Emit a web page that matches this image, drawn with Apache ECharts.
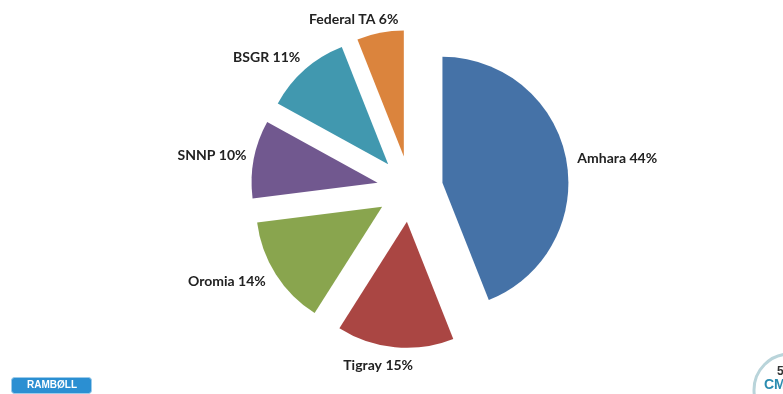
<!DOCTYPE html>
<html>
<head>
<meta charset="utf-8">
<script src="https://cdn.jsdelivr.net/npm/echarts@6/dist/echarts.min.js"></script>
<style>
html,body{margin:0;padding:0;background:#fff;}
#chart{width:783px;height:394px;}
</style>
</head>
<body>
<div id="chart"></div>
<script>
// ---- data ----
var categories = ['Amhara', 'Tigray', 'Oromia', 'SNNP', 'BSGR', 'Federal TA'];
var shares = [44, 15, 14, 10, 11, 6];
var colors = ['#4572A7', '#AA4643', '#89A54E', '#71588F', '#4198AF', '#DB843D'];

// ---- layout / style ----
var CX = 410, CY = 189, R = 126, OFFSET = 33;
var labelGap = 6;
var labelNudge = [[6, 2], [-13, 5], [-11, 0], [-2, -1], [-12, -2], [-17, -1]];

var total = shares.reduce(function (a, b) { return a + b; }, 0);
var cum = [];
(function () { var s = 0; for (var i = 0; i < shares.length; i++) { cum.push(s); s += shares[i]; } })();
function midDir(i) {
  var mid = (cum[i] + shares[i] / 2) / total * 2 * Math.PI;
  return [Math.sin(mid), -Math.cos(mid)];
}

// one pie series per slice, each shifted outward along its bisector (exploded pie)
var series = categories.map(function (cat, k) {
  var d = midDir(k);
  return {
    type: 'pie',
    silent: true,
    center: [CX + d[0] * OFFSET, CY + d[1] * OFFSET],
    radius: [0, R],
    startAngle: 90,
    clockwise: true,
    avoidLabelOverlap: false,
    emphasis: {disabled: true},
    label: {
      show: true,
      position: 'outside',
      formatter: function (p) { return p.name + ' ' + p.value + '%'; },
      fontFamily: 'Lato',
      fontWeight: 'bold',
      fontSize: 14,
      color: '#222222'
    },
    labelLine: {show: false},
    labelLayout: function (params) {
      var i = params.dataIndex;
      var dir = midDir(i);
      var px = CX + dir[0] * (OFFSET + R), py = CY + dir[1] * (OFFSET + R);
      var w = params.labelRect.width, h = params.labelRect.height;
      return {
        x: px + dir[0] * (w / 2 + labelGap) + labelNudge[i][0],
        y: py + dir[1] * (h / 2 + labelGap) + labelNudge[i][1],
        align: 'center',
        verticalAlign: 'middle'
      };
    },
    data: categories.map(function (c, i) {
      return i === k
        ? {name: c, value: shares[i], itemStyle: {color: colors[i]}}
        : {name: c, value: shares[i], itemStyle: {color: 'rgba(0,0,0,0)'}, label: {show: false}};
    })
  };
});

var chart = echarts.init(document.getElementById('chart'), null, {renderer: 'canvas'});
chart.setOption({
  animation: false,
  backgroundColor: '#ffffff',
  series: series,
  graphic: [
    {type: 'rect', left: 11, top: 377, shape: {width: 80, height: 16, r: 3}, style: {fill: '#2B8FD2', stroke: '#9CCBEA', lineWidth: 1}},
    {type: 'text', x: 52, y: 385.5, style: {text: 'RAMBØLL', fill: '#ffffff', font: 'bold 10px "Liberation Sans"', letterSpacing: 3, align: 'center', verticalAlign: 'middle'}},
    {type: 'circle', shape: {cx: 790, cy: 390, r: 36}, style: {fill: '#ffffff', stroke: '#B9D4DA', lineWidth: 3}},
    {type: 'text', x: 777, y: 366, style: {text: '5', fill: '#333333', font: 'bold 12px "Liberation Sans"'}},
    {type: 'text', x: 764, y: 378, style: {text: 'CM', fill: '#2A8CB0', font: 'bold 14px "Liberation Sans"'}}
  ]
});
</script>
</body>
</html>
